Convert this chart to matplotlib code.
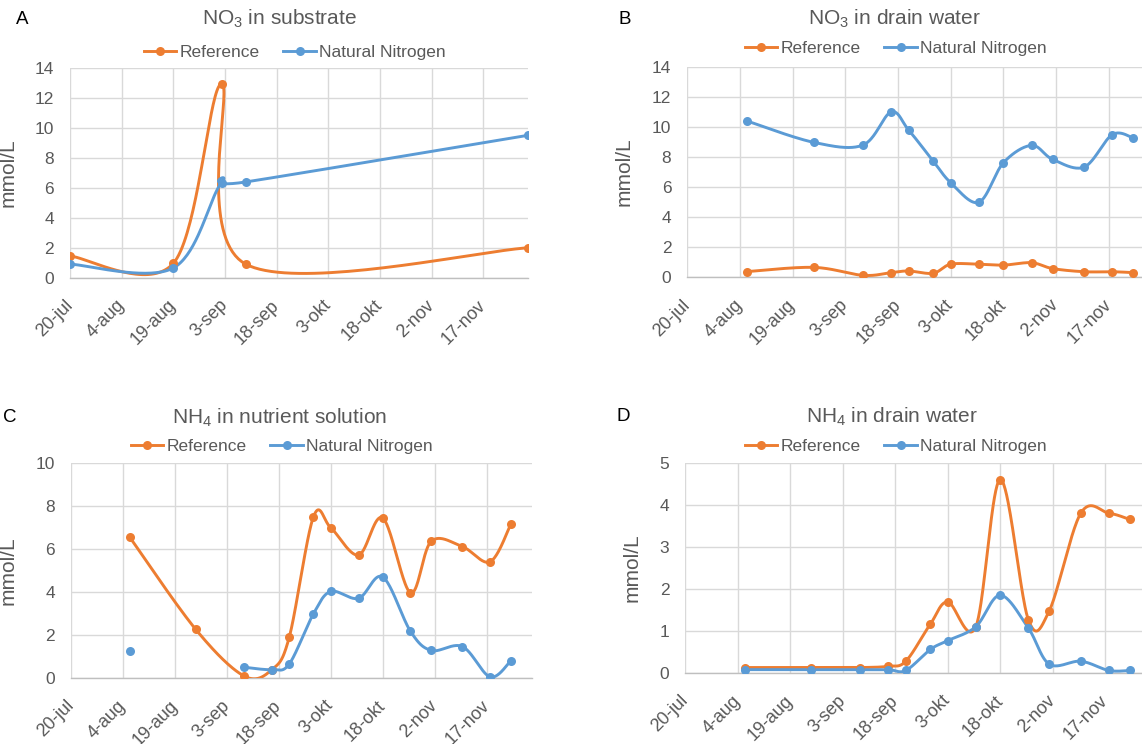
import numpy as np
import matplotlib
matplotlib.use("Agg")
import matplotlib.pyplot as plt
import matplotlib.dates as mdates
from matplotlib.lines import Line2D

plt.rcParams['font.family'] = ['Liberation Sans', 'DejaVu Sans']
plt.rcParams['mathtext.fontset'] = 'custom'
plt.rcParams['mathtext.rm'] = 'Liberation Sans'
plt.rcParams['mathtext.it'] = 'Liberation Sans:italic'
plt.rcParams['mathtext.bf'] = 'Liberation Sans:bold'
plt.rcParams['mathtext.default'] = 'regular'

# ---------------- data ----------------
x_start = "2019-07-20"
x_end = "2019-11-30"
tick_dates = ["2019-07-20", "2019-08-04", "2019-08-19", "2019-09-03", "2019-09-18",
              "2019-10-03", "2019-10-18", "2019-11-02", "2019-11-17"]
tick_labels = ["20-jul", "4-aug", "19-aug", "3-sep", "18-sep", "3-okt", "18-okt", "2-nov", "17-nov"]

series_names = ["Reference", "Natural Nitrogen"]

dates_a = ["2019-07-20", "2019-08-19", "2019-09-02", "2019-09-09", "2019-11-30"]
no3_substrate_ref = [1.45, 0.96, 12.95, 0.91, 2.0]
no3_substrate_nat = [0.91, 0.65, 6.35, 6.40, 9.52]

dates_bcd = ["2019-08-06", "2019-08-25", "2019-09-08", "2019-09-16", "2019-09-21", "2019-09-28",
             "2019-10-03", "2019-10-11", "2019-10-18", "2019-10-26", "2019-11-01", "2019-11-10",
             "2019-11-18", "2019-11-24"]
no3_drain_ref = [0.38, 0.66, 0.13, 0.31, 0.42, 0.27, 0.87, 0.87, 0.81, 0.97, 0.58, 0.37, 0.37, 0.31]
no3_drain_nat = [10.39, 8.97, 8.79, 10.99, 9.79, 7.73, 6.29, 4.99, 7.62, 8.77, 7.84, 7.33, 9.49, 9.26]

nh4_nutrient_ref = [6.53, 2.26, 0.09, 0.39, 1.89, 7.49, 6.98, 5.71, 7.43, 3.96, 6.35, 6.10, 5.40, 7.15]
nh4_nutrient_nat = [1.24, np.nan, 0.50, 0.39, 0.65, 2.99, 4.02, 3.70, 4.69, 2.17, 1.28, 1.46, 0.05, 0.80]

nh4_drain_ref = [0.13, 0.13, 0.13, 0.16, 0.28, 1.16, 1.69, 1.10, 4.60, 1.27, 1.48, 3.80, 3.80, 3.65]
nh4_drain_nat = [0.08, 0.08, 0.08, 0.08, 0.06, 0.56, 0.77, 1.10, 1.85, 1.07, 0.21, 0.28, 0.06, 0.06]

titles = [r"NO$_3$ in substrate", r"NO$_3$ in drain water",
          r"NH$_4$ in nutrient solution", r"NH$_4$ in drain water"]
letters = ["A", "B", "C", "D"]
y_max = [14, 14, 10, 5]
y_step = [2, 2, 2, 1]

# ---------------- style ----------------
W, H = 1142, 744
ORANGE = "#ED7D31"
BLUE = "#5B9BD5"
GRAY = "#595959"

fig = plt.figure(figsize=(W / 100, H / 100), dpi=100)
fig.patch.set_facecolor("white")

# axes boxes in pixels: left, right, top, bottom
boxes = [(70, 528, 68.3, 277.7),
         (687.3, 1154.5, 66.7, 277.3),
         (71, 531.7, 462.7, 678),
         (685.3, 1150.8, 462.7, 673)]
title_pos = [(279, 19), (894, 19), (280, 418), (892, 417)]
legend_pos = [(295, 52), (896, 48), (282, 446), (896, 446)]
letter_pos = [(22.6, 20), (624.5, 20), (10.2, 418), (623, 417)]
ylabel_off = [52.5, 53.7, 53.5, 43.3]


def smooth_xy(ax, x, y, npts=40):
    pts = ax.transData.transform(np.column_stack([x, y]))
    n = len(pts)
    if n < 2:
        return np.asarray(x), np.asarray(y)
    out = [pts[0]]
    t = np.linspace(0, 1, npts)[1:, None]
    for i in range(n - 1):
        p0 = pts[i - 1] if i > 0 else pts[i]
        p1 = pts[i]
        p2 = pts[i + 1]
        p3 = pts[i + 2] if i + 2 < n else pts[i + 1]
        c1 = p1 + (p2 - p0) / 6.0
        c2 = p2 - (p3 - p1) / 6.0
        seg = (1 - t) ** 3 * p1 + 3 * (1 - t) ** 2 * t * c1 + 3 * (1 - t) * t ** 2 * c2 + t ** 3 * p2
        out.extend(seg)
    out = np.array(out)
    d = ax.transData.inverted().transform(out)
    return d[:, 0], d[:, 1]


def draw_series(ax, dates, vals, color):
    x = mdates.datestr2num(dates)
    v = np.asarray(vals, dtype=float)
    ok = ~np.isnan(v)
    runs = []
    cur = []
    for i in range(len(v)):
        if ok[i]:
            cur.append(i)
        else:
            if cur:
                runs.append(cur)
            cur = []
    if cur:
        runs.append(cur)
    for r in runs:
        if len(r) > 1:
            sx, sy = smooth_xy(ax, x[r], v[r])
            ax.plot(sx, sy, color=color, lw=2.1, solid_capstyle="round", zorder=3)
    ax.plot(x[ok], v[ok], "o", color=color, ms=6.5, zorder=4, markeredgewidth=0)


data = [(dates_a, no3_substrate_ref, no3_substrate_nat),
        (dates_bcd, no3_drain_ref, no3_drain_nat),
        (dates_bcd, nh4_nutrient_ref, nh4_nutrient_nat),
        (dates_bcd, nh4_drain_ref, nh4_drain_nat)]

for k in range(4):
    l, r, t, b = boxes[k]
    ax = fig.add_axes([l / W, 1 - b / H, (r - l) / W, (b - t) / H])
    ax.set_xlim(mdates.datestr2num(x_start), mdates.datestr2num(x_end))
    ax.set_ylim(0, y_max[k])
    ax.set_xticks(mdates.datestr2num(tick_dates))
    ax.set_xticklabels(tick_labels, rotation=45, ha="right", va="center", rotation_mode="anchor")
    ax.set_yticks(np.arange(0, y_max[k] + 0.001, y_step[k]))
    ax.tick_params(axis="both", length=0, labelsize=12.5, labelcolor=GRAY)
    ax.tick_params(axis="x", pad=18, labelsize=13)
    ax.tick_params(axis="y", pad=11.5)
    ax.grid(True, color="#d9d9d9", lw=1.0)
    ax.set_axisbelow(True)
    for s in ["top", "right", "left"]:
        ax.spines[s].set_visible(False)
    ax.spines["bottom"].set_color("#bfbfbf")
    ax.spines["bottom"].set_linewidth(1.0)
    ax.set_ylabel("mmol/L", fontsize=15, color=GRAY)
    ax.yaxis.set_label_coords(-ylabel_off[k] / (r - l), 0.5)

    d, ref, nat = data[k]
    draw_series(ax, d, ref, ORANGE)
    draw_series(ax, d, nat, BLUE)

    fig.text(title_pos[k][0] / W, 1 - title_pos[k][1] / H, titles[k], ha="center", va="center",
             fontsize=15, color=GRAY)
    fig.text(letter_pos[k][0] / W, 1 - letter_pos[k][1] / H, letters[k], ha="center", va="center",
             fontsize=13.5, color="black")
    handles = [Line2D([], [], color=ORANGE, lw=2.1, marker="o", ms=6.5, markeredgewidth=0),
               Line2D([], [], color=BLUE, lw=2.1, marker="o", ms=6.5, markeredgewidth=0)]
    leg = fig.legend(handles, series_names, loc="center",
                     bbox_to_anchor=(legend_pos[k][0] / W, 1 - legend_pos[k][1] / H),
                     ncol=2, frameon=False, fontsize=12.5, handlelength=1.85,
                     handletextpad=0.2, columnspacing=1.35, borderpad=0, borderaxespad=0)
    for txt in leg.get_texts():
        txt.set_color(GRAY)

fig.savefig("out.png", dpi=100)
